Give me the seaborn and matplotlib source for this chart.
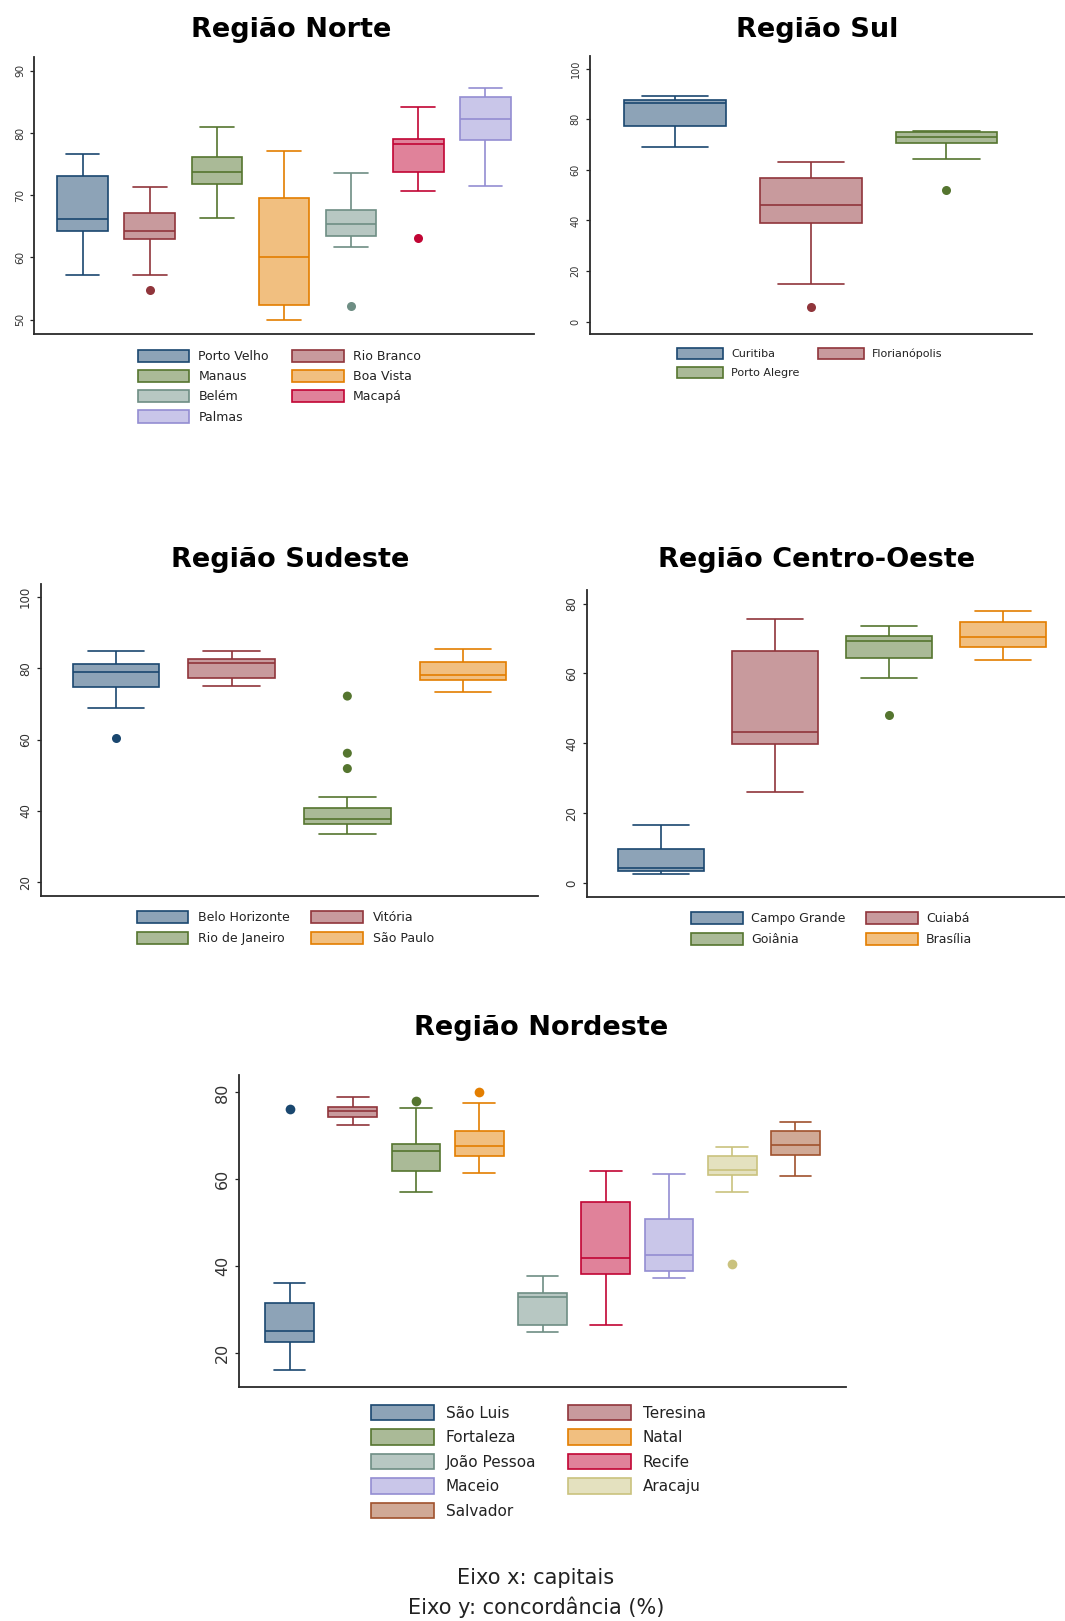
import numpy as np
import pandas as pd
import matplotlib
matplotlib.use("Agg")
import matplotlib.pyplot as plt
from matplotlib.patches import Patch
import seaborn as sns

# ---------------- Região Norte ----------------
norte_cidades = ["Porto Velho", "Rio Branco", "Manaus", "Boa Vista", "Belém", "Macapá", "Palmas"]
norte_min = [57.2, 57.2, 66.4, 50.0, 61.7, 70.6, 71.4]
norte_q1 = [64.3, 62.9, 71.8, 52.3, 63.4, 73.8, 78.8]
norte_med = [66.2, 64.3, 73.8, 60.0, 65.4, 78.2, 82.3]
norte_q3 = [73.1, 67.2, 76.1, 69.5, 67.6, 79.0, 85.8]
norte_max = [76.6, 71.3, 80.9, 77.1, 73.5, 84.2, 87.2]
norte_out_cidade = ["Rio Branco", "Belém", "Macapá"]
norte_out_valor = [54.7, 52.2, 63.2]

# ---------------- Região Sul ----------------
sul_cidades = ["Curitiba", "Florianópolis", "Porto Alegre"]
sul_min = [69.2, 14.9, 64.3]
sul_q1 = [77.3, 38.9, 70.5]
sul_med = [86.3, 46.0, 73.1]
sul_q3 = [87.6, 56.9, 74.8]
sul_max = [89.1, 63.1, 75.5]
sul_out_cidade = ["Florianópolis", "Porto Alegre"]
sul_out_valor = [5.7, 52.2]

# ---------------- Região Sudeste ----------------
sudeste_cidades = ["Belo Horizonte", "Vitória", "Rio de Janeiro", "São Paulo"]
sudeste_min = [68.8, 75.1, 33.6, 73.3]
sudeste_q1 = [74.7, 77.4, 36.4, 76.7]
sudeste_med = [78.9, 81.5, 37.9, 78.2]
sudeste_q3 = [81.3, 82.6, 40.8, 81.8]
sudeste_max = [84.8, 84.8, 44.0, 85.5]
sudeste_out_cidade = ["Belo Horizonte", "Rio de Janeiro", "Rio de Janeiro", "Rio de Janeiro"]
sudeste_out_valor = [60.5, 72.2, 56.2, 51.9]

# ---------------- Região Centro-Oeste ----------------
co_cidades = ["Campo Grande", "Cuiabá", "Goiânia", "Brasília"]
co_min = [2.6, 26.0, 58.6, 64.0]
co_q1 = [3.5, 39.9, 64.3, 67.7]
co_med = [4.3, 43.2, 69.3, 70.4]
co_q3 = [9.7, 66.5, 70.8, 74.7]
co_max = [16.7, 75.6, 73.7, 78.0]
co_out_cidade = ["Goiânia"]
co_out_valor = [48.0]

# ---------------- Região Nordeste ----------------
ne_cidades = ["São Luis", "Teresina", "Fortaleza", "Natal", "João Pessoa",
              "Recife", "Maceio", "Aracaju", "Salvador"]
ne_min = [16.2, 72.5, 57.1, 61.4, 24.8, 26.4, 37.3, 57.0, 60.7]
ne_q1 = [22.5, 74.4, 61.8, 65.3, 26.4, 38.3, 39.0, 61.0, 65.7]
ne_med = [25.2, 75.7, 66.5, 67.7, 32.8, 41.8, 42.6, 62.2, 67.9]
ne_q3 = [31.5, 76.7, 68.2, 71.2, 33.9, 54.7, 50.8, 65.3, 71.2]
ne_max = [36.1, 78.9, 76.5, 77.5, 37.7, 61.9, 61.2, 67.4, 73.1]
ne_out_cidade = ["São Luis", "Fortaleza", "Natal", "Aracaju"]
ne_out_valor = [76.1, 78.1, 80.1, 40.4]

# line colours, used in this order inside every region
cores_linha = ["#1a476f", "#90353b", "#55752f", "#e37e00", "#6e8e84",
               "#c10534", "#938dd2", "#cac27e", "#a0522d"]


def clarear(cor, f=0.5):
    r, g, b = matplotlib.colors.to_rgb(cor)
    return (r + (1 - r) * f, g + (1 - g) * f, b + (1 - b) * f)


sns.set_theme(style="ticks")
plt.rcParams["font.family"] = ["DejaVu Sans"]

W, H = 1065, 1621
fig = plt.figure(figsize=(W / 100, H / 100), dpi=100)


def eixo(left, top, right, bottom):
    return fig.add_axes([left / W, 1 - bottom / H, (right - left) / W, (bottom - top) / H])


def painel(ax, cidades, vmin, q1, med, q3, vmax, out_cid, out_val,
           ylim, yticks, margem, largura, tick_fs, ms):
    n = len(cidades)
    linhas = cores_linha[:n]
    preench = [clarear(c) for c in linhas]
    df = pd.DataFrame({
        "cidade": np.repeat(cidades, 5),
        "valor": np.column_stack([vmin, q1, med, q3, vmax]).ravel(),
    })
    sns.boxplot(data=df, x="cidade", y="valor", hue="cidade", order=cidades,
                hue_order=cidades, palette=preench, saturation=1, whis=(0, 100),
                width=largura, linewidth=1.2, legend=False, ax=ax)
    for cont, cor in zip(ax.containers, linhas):
        for b in cont.boxes:
            b.set_edgecolor(cor)
        for ln in list(cont.whiskers) + list(cont.medians):
            ln.set_color(cor)
        for cap in cont.caps:
            cap.set_color(cor)
            c = float(np.mean(cap.get_xdata()))
            meia = largura * 0.65 / 2
            cap.set_xdata([c - meia, c + meia])
    if out_cid:
        dfo = pd.DataFrame({"cidade": out_cid, "valor": out_val})
        sns.stripplot(data=dfo, x="cidade", y="valor", hue="cidade", order=cidades,
                      hue_order=cidades, palette=dict(zip(cidades, linhas)),
                      jitter=False, size=ms, linewidth=0, legend=False, ax=ax)
    ax.set_xlim(-margem, n - 1 + margem)
    ax.set_ylim(*ylim)
    ax.set_xticks([])
    ax.set_xlabel("")
    ax.set_ylabel("")
    ax.set_yticks(yticks)
    ax.set_yticklabels([str(t) for t in yticks], rotation=90, va="center",
                       fontsize=tick_fs, color="#333333")
    ax.tick_params(axis="y", length=3, width=0.9, color="#222222", pad=3.5)
    sns.despine(ax=ax)
    for s in ("left", "bottom"):
        ax.spines[s].set_color("#2a2a2a")
        ax.spines[s].set_linewidth(1.3)


def legenda(cidades, left, row1, fs, hl, hh, ls, hp, cs):
    n = len(cidades)
    linhas = cores_linha[:n]
    handles = [Patch(facecolor=clarear(c), edgecolor=c, linewidth=1.2) for c in linhas]
    ordem = list(range(0, n, 2)) + list(range(1, n, 2))
    fs_px = fs * 100 / 72
    top = row1 - hh * fs_px / 2
    fig.legend([handles[i] for i in ordem], [cidades[i] for i in ordem],
               loc="upper left", bbox_to_anchor=(left / W, 1 - top / H),
               bbox_transform=fig.transFigure, ncol=2, frameon=False,
               fontsize=fs, handlelength=hl, handleheight=hh, labelspacing=ls,
               handletextpad=hp, columnspacing=cs, borderpad=0, borderaxespad=0,
               labelcolor="#222222")


def titulo(x, y, texto):
    fig.text(x / W, 1 - y / H, texto, ha="center", va="baseline",
             fontsize=19.5, fontweight="bold", color="black")


# Norte
ax = eixo(34, 57, 534, 334)
painel(ax, norte_cidades, norte_min, norte_q1, norte_med, norte_q3, norte_max,
       norte_out_cidade, norte_out_valor, (47.7, 92.2), [50, 60, 70, 80, 90],
       0.73, 0.76, 7.5, 6.5)
titulo(291, 37, "Região Norte")
legenda(norte_cidades, 137.5, 357, 9, 4.14, 1.16, 0.53, 0.74, 1.82)

# Sul
ax = eixo(589.5, 56, 1032, 334)
painel(ax, sul_cidades, sul_min, sul_q1, sul_med, sul_q3, sul_max,
       sul_out_cidade, sul_out_valor, (-4.9, 105), [0, 20, 40, 60, 80, 100],
       0.63, 0.75, 7, 6.5)
titulo(817, 37, "Região Sul")
legenda(sul_cidades, 677, 354, 8, 4.1, 1.12, 0.74, 0.77, 1.68)

# Sudeste
ax = eixo(41, 584, 538, 896)
painel(ax, sudeste_cidades, sudeste_min, sudeste_q1, sudeste_med, sudeste_q3,
       sudeste_max, sudeste_out_cidade, sudeste_out_valor, (16.2, 103.6),
       [20, 40, 60, 80, 100], 0.648, 0.75, 8.5, 6.5)
titulo(290.6, 567, "Região Sudeste")
legenda(sudeste_cidades, 136.5, 918, 9, 4.14, 1.16, 0.6, 0.82, 1.66)

# Centro-Oeste
ax = eixo(587, 590, 1077, 897)
painel(ax, co_cidades, co_min, co_q1, co_med, co_q3, co_max,
       co_out_cidade, co_out_valor, (-4.0, 83.9), [0, 20, 40, 60, 80],
       0.65, 0.75, 8.5, 6.5)
titulo(817, 567, "Região Centro-Oeste")
legenda(co_cidades, 690.8, 919, 9, 4.14, 1.16, 0.6, 0.66, 1.68)

# Nordeste
ax = eixo(239, 1075, 846, 1387)
painel(ax, ne_cidades, ne_min, ne_q1, ne_med, ne_q3, ne_max,
       ne_out_cidade, ne_out_valor, (12.2, 84.0), [20, 40, 60, 80],
       0.80, 0.77, 11.5, 7)
titulo(541, 1035, "Região Nordeste")
legenda(ne_cidades, 370.7, 1414, 11, 4.16, 1.18, 0.56, 0.75, 2.07)

# rodapé
fig.text(536 / W, 1 - 1584 / H, "Eixo x: capitais", ha="center", va="baseline",
         fontsize=15, color="#222222")
fig.text(536 / W, 1 - 1614 / H, "Eixo y: concordância (%)", ha="center",
         va="baseline", fontsize=15, color="#222222")

fig.savefig("out.png", dpi=100)
